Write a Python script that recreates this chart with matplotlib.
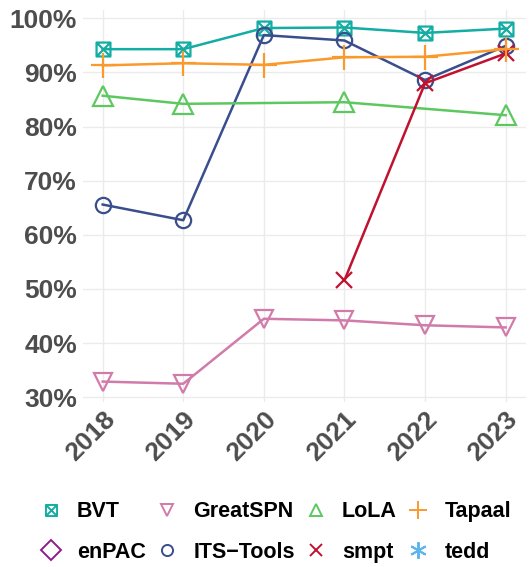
import numpy as np
import matplotlib
matplotlib.use("Agg")
import matplotlib.pyplot as plt
from matplotlib.path import Path
from matplotlib.lines import Line2D

plt.rcParams['font.family'] = ['Liberation Sans', 'DejaVu Sans']

# share of solved instances per tool and year (NaN = not participating)
years = [2018, 2019, 2020, 2021, 2022, 2023]
tools = ["BVT", "enPAC", "GreatSPN", "ITS\u2212Tools", "LoLA", "smpt", "Tapaal", "tedd"]
bvt = [94.3, 94.3, 98.2, 98.3, 97.3, 98.1]
enpac = [np.nan] * 6
greatspn = [32.9, 32.5, 44.5, 44.2, 43.3, 42.9]
its_tools = [65.6, 62.7, 96.9, 95.9, 88.6, 94.9]
lola = [85.7, 84.2, np.nan, 84.5, np.nan, 82.1]
smpt = [np.nan, np.nan, np.nan, 51.6, 88.0, 93.5]
tapaal = [91.3, 91.7, 91.4, 92.8, 92.9, 94.3]
tedd = [np.nan] * 6

values = [bvt, enpac, greatspn, its_tools, lola, smpt, tapaal, tedd]
colors = ["#13ADA4", "#8E1B8B", "#D17BAA", "#3A4E8E", "#5DC860", "#C01230", "#FA9A2C", "#5AB6EC"]

# square with a cross inside
box_x = Path([(-1, -1), (1, -1), (1, 1), (-1, 1), (-1, -1),
              (-1, -1), (1, 1), (-1, 1), (1, -1)],
             [Path.MOVETO, Path.LINETO, Path.LINETO, Path.LINETO, Path.CLOSEPOLY,
              Path.MOVETO, Path.LINETO, Path.MOVETO, Path.LINETO])
markers = [box_x, "D", "v", "o", "^", "x", "+", (6, 2, 0)]
msizes = [10, 10, 13, 11, 14, 12, 18, 12]
leg_sizes = [8, 10, 9, 8, 9, 9, 13, 12]

fig = plt.figure(figsize=(5.3, 5.67), dpi=100)
ax = fig.add_axes([0.1557, 0.2917, 0.8363, 0.6913])

handles = []
for i, (name, vals, c, m, ms) in enumerate(zip(tools, values, colors, markers, msizes)):
    v = np.array(vals, dtype=float)
    ok = ~np.isnan(v)
    x = np.array(years)[ok]
    ax.plot(x, v[ok], color=c, lw=1.8, zorder=3 + i)
    ax.plot(x, v[ok], linestyle="none", marker=m, ms=ms, mfc="none",
            mec=c, mew=1.6, zorder=3 + i)
    handles.append(Line2D([], [], linestyle="none", marker=m, ms=leg_sizes[i],
                          mfc="none", mec=c, mew=1.4, color=c, label=name))

ax.set_xlim(2017.75, 2023.25)
ax.set_ylim(29.2, 101.6)
ax.set_xticks(years)
ax.set_yticks(np.arange(30, 101, 10))
ax.set_yticklabels([f"{t}%" for t in range(30, 101, 10)])
ax.grid(True, color="#EBEBEB", lw=1.0)
ax.set_axisbelow(True)
for s in ax.spines.values():
    s.set_visible(False)
ax.tick_params(length=0, pad=4, labelcolor="#4D4D4D")
for lab in ax.get_yticklabels():
    lab.set_fontsize(19)
    lab.set_fontweight("bold")
ax.set_xticklabels([str(y) for y in years], rotation=45, ha="right",
                   va="top", rotation_mode="anchor", fontsize=19,
                   fontweight="bold")

fig.legend(handles=handles, ncol=4, loc="center",
           bbox_to_anchor=(0.52, 0.0615), frameon=False,
           prop={"weight": "bold", "size": 15.5},
           handletextpad=0.7, columnspacing=0.5, handlelength=1.0,
           labelspacing=0.9)

fig.savefig("out.png", dpi=100)
